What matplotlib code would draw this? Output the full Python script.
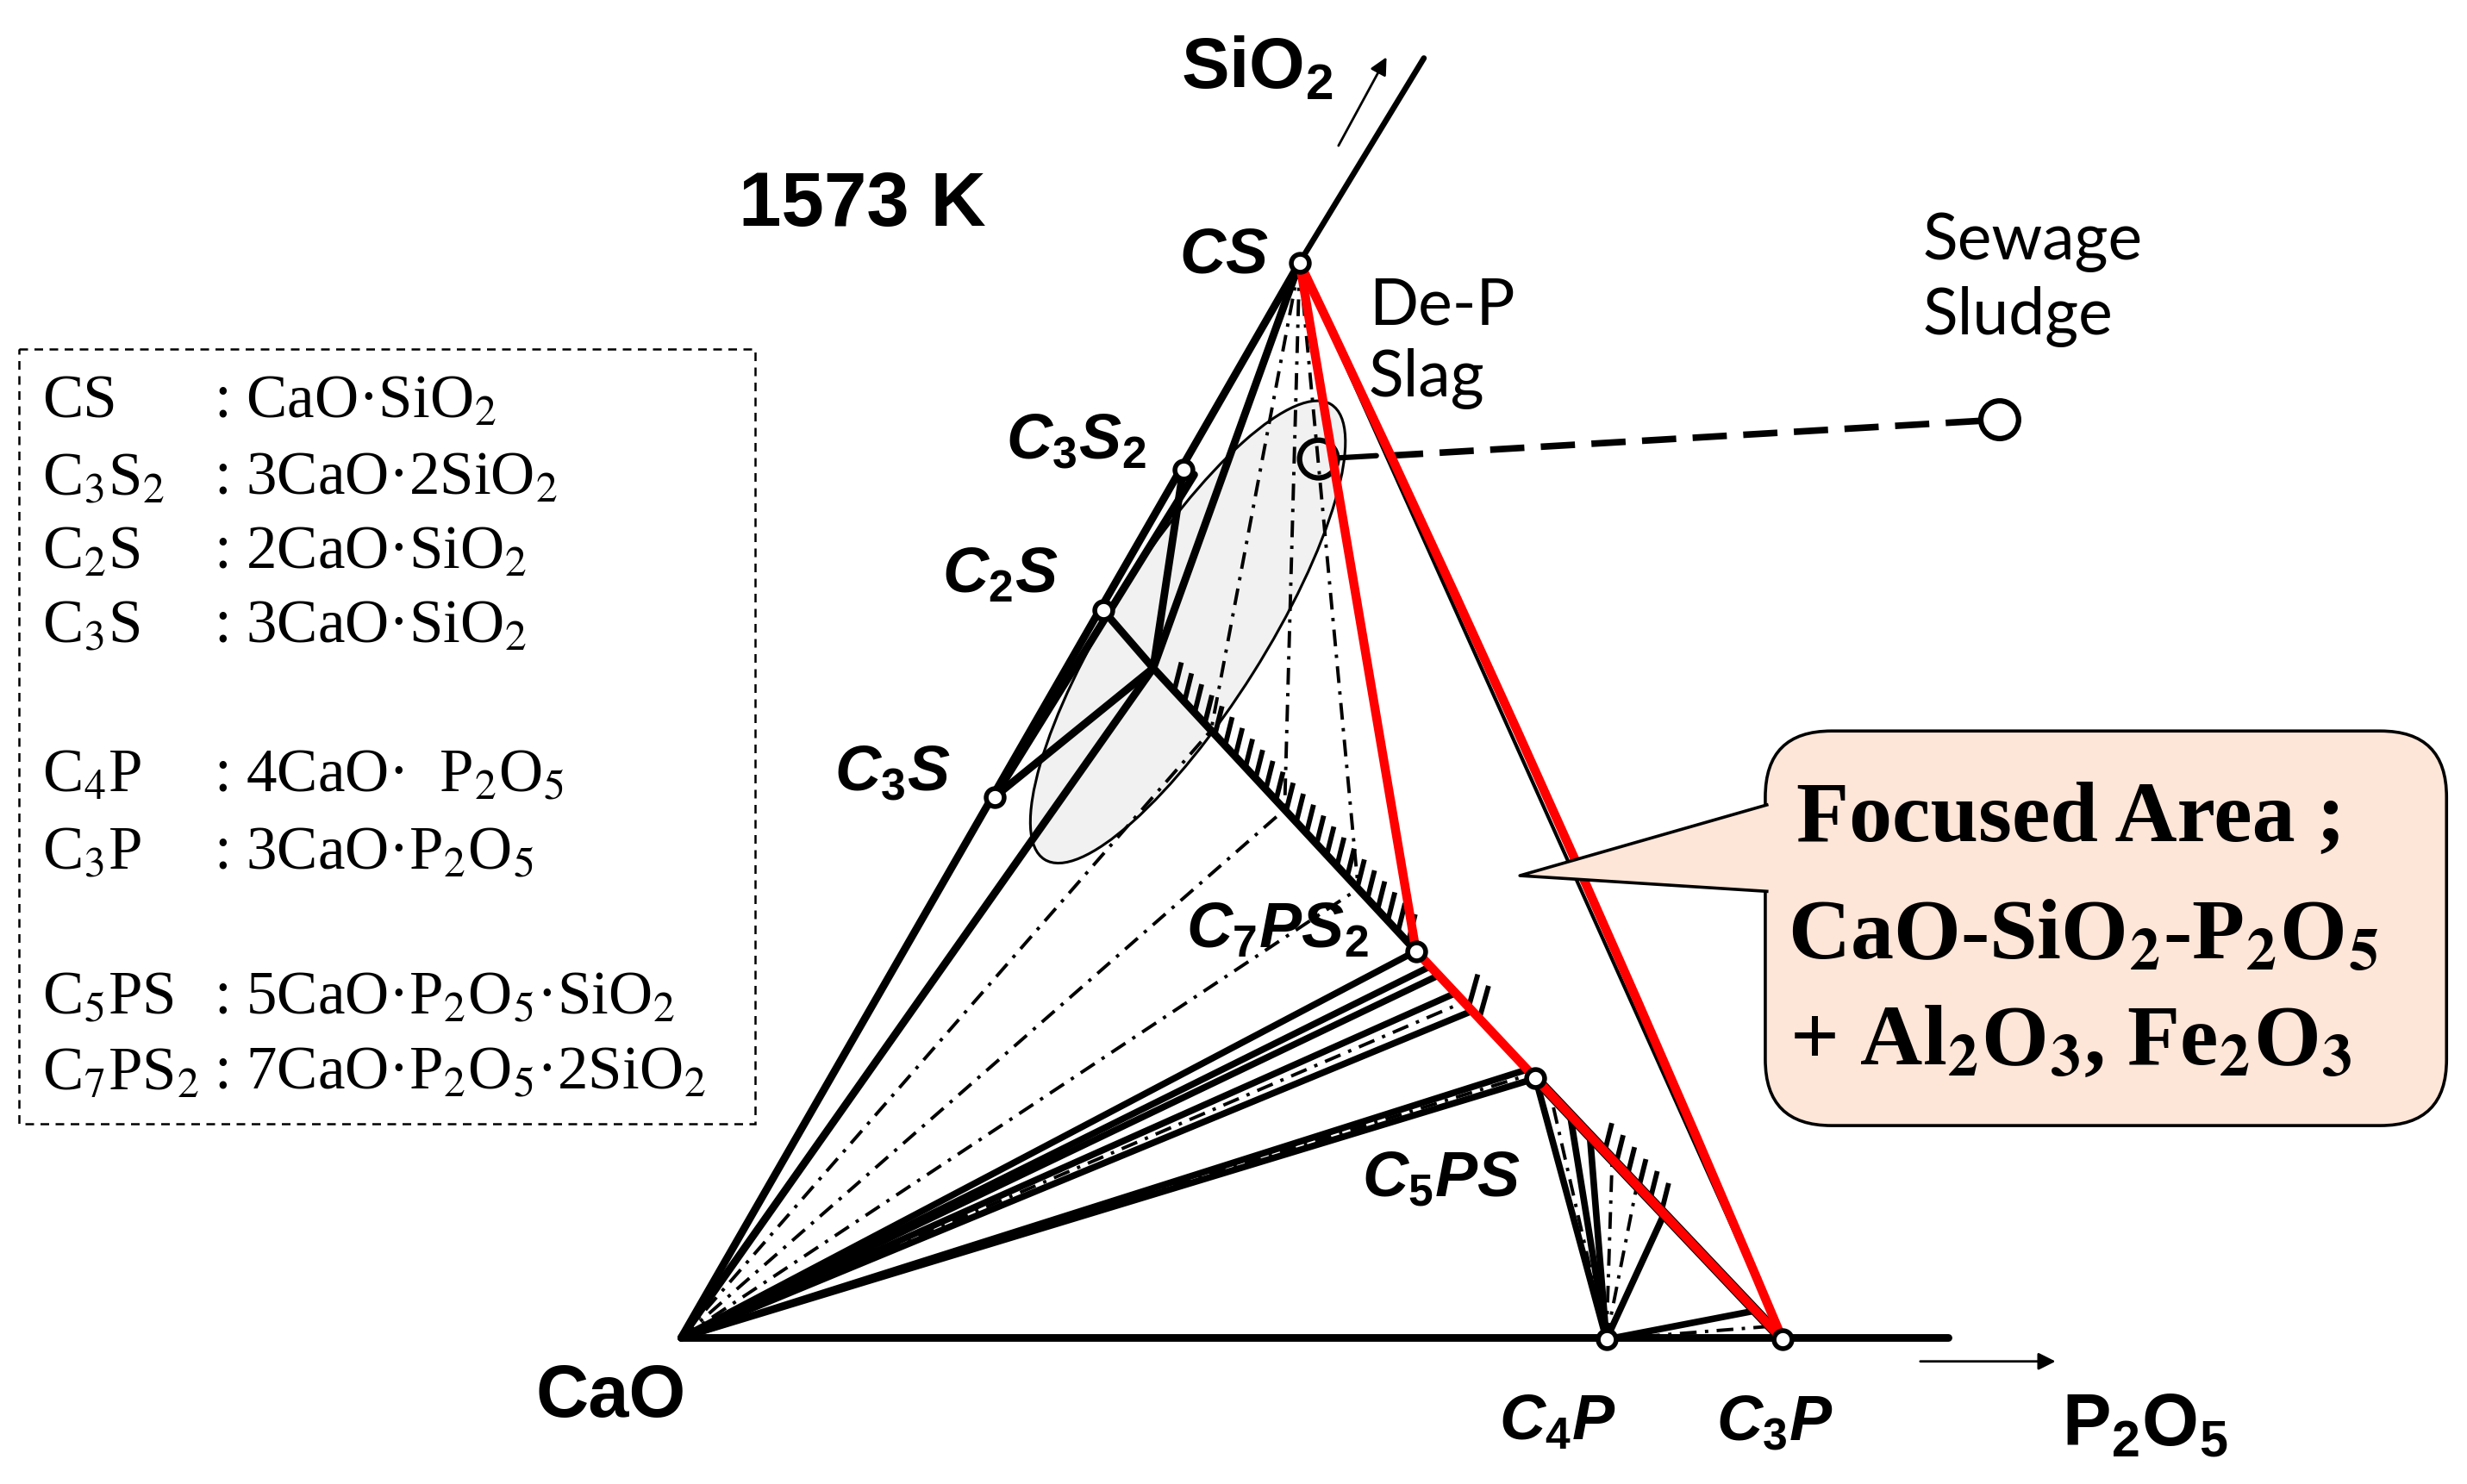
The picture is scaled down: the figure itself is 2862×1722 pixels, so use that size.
#  CaO-SiO2-P2O5 phase diagram at 1573 K (schematic)

import matplotlib.pyplot as plt
import numpy as np
from matplotlib.patches import Ellipse, Circle, FancyBboxPatch, Polygon, PathPatch, Rectangle
from matplotlib.path import Path

plt.rcParams['mathtext.fontset'] = 'custom'
plt.rcParams['mathtext.it'] = 'Liberation Sans:italic:bold'
plt.rcParams['mathtext.bf'] = 'Liberation Sans:bold'
plt.rcParams['mathtext.rm'] = 'Liberation Sans:bold'

# compound positions on the drawing (x to the right, y downwards)
CaO = (433, 851)
SiO2_end = (905, 37)
P2O5_end = (1238, 851)
CS = (826, 167)
C3S2 = (752, 299)
C2S = (701, 388)
C3S = (632, 507)
J = (733, 425)  # end of the hatched boundary on the C2S side
C7PS2 = (900, 605)
C5PS = (976, 686)
C4P = (1021, 852)
C3P = (1133, 852)
DeP_slag = (838, 292)
Sludge = (1271, 267)

# tie lines, given as fractions along a boundary segment
j_ties = [0.22, 0.50, 0.78]                       # J -> C7PS2, met by CaO and CS dash-dot lines
cao_fan_solid = [0.0, 0.12, 0.19, 0.33, 0.47, 0.93, 1.0]  # C7PS2 -> C5PS
cao_fan_dd = [0.40, 0.965]
c4p_fan_solid = [0.0, 0.14, 0.22, 0.52, 0.89]     # C5PS -> C3P
c4p_fan_dd = [0.06, 0.31, 0.41, 0.95]

labels = ['$\\mathit{CS}$', 'C$_\\mathit{3}$S$_\\mathit{2}$', 'C$_\\mathit{2}$S', 'C$_\\mathit{3}$S',
          'C$_\\mathit{7}$PS$_\\mathit{2}$', 'C$_\\mathit{5}$PS', 'C$_\\mathit{4}$P', 'C$_\\mathit{3}$P']
label_xy = [(778, 163), (684, 281), (636, 366), (567, 492),
            (812, 592), (916, 750), (990, 905), (1128, 905)]

leg_names = ['CS', 'C$_3$S$_2$', 'C$_2$S', 'C$_3$S', 'C$_4$P', 'C$_3$P', 'C$_5$PS', 'C$_7$PS$_2$']
leg_formulas = [': CaO·SiO$_2$', ': 3CaO·2SiO$_2$', ': 2CaO·SiO$_2$',
                ': 3CaO·SiO$_2$', ': 4CaO·  P$_2$O$_5$', ': 3CaO·P$_2$O$_5$',
                ': 5CaO·P$_2$O$_5$·SiO$_2$', ': 7CaO·P$_2$O$_5$·2SiO$_2$']
leg_y = [256, 305, 352, 399, 494, 543, 635, 683]


def along(p, q, t):
    return (p[0] + (q[0] - p[0]) * t, p[1] + (q[1] - p[1]) * t)


def seg(ax, p, q, **kw):
    ax.plot([p[0], q[0]], [p[1], q[1]], solid_capstyle='round', **kw)


def hatch(ax, p, q, ts, length, d):
    d = np.array(d) / np.hypot(*d)
    for t in ts:
        b = np.array(along(p, q, t))
        e = b + length * d
        ax.plot([b[0], e[0]], [b[1], e[1]], color='k', lw=4.2, zorder=4)


fig = plt.figure(figsize=(28.62, 17.22), dpi=100)
ax = fig.add_axes([0, 0, 1, 1])
ax.set_xlim(0, 1568)
ax.set_ylim(944, 0)
ax.axis('off')

thick = dict(color='k', lw=6.4, zorder=3)
fan = dict(color='k', lw=5.5, zorder=3)
dd = dict(color='k', lw=2.8, ls=(0, (5, 2.5, 1, 2.5)), zorder=3)

# grey two-liquid region
ax.add_patch(Ellipse((755, 402), 342, 98, angle=-57.8, facecolor='#f1f1f1',
                     edgecolor='k', lw=2.2, zorder=1))

# triangle sides
seg(ax, CaO, CS, **thick)
seg(ax, CS, SiO2_end, color='k', lw=4.8, zorder=3)
seg(ax, CaO, P2O5_end, **thick)
seg(ax, CS, C3P, color='k', lw=3.0, zorder=3)

# C2S corner
for p in [C3S, C2S, C3S2, CS, CaO]:
    seg(ax, p, J, **thick)
seg(ax, (C3S2[0] + 7, C3S2[1] + 3), C3S, **thick)
seg(ax, J, C7PS2, **thick)
hatch(ax, J, C7PS2, np.linspace(0.08, 0.97, 24), 17, (0.25, -1))

for t in j_ties:
    p = along(J, C7PS2, t)
    seg(ax, CaO, p, **dd)
    seg(ax, CS, p, **dd)

# CaO fan towards C7PS2 - C5PS
for t in cao_fan_solid:
    seg(ax, CaO, along(C7PS2, C5PS, t), **fan)
for t in cao_fan_dd:
    seg(ax, CaO, along(C7PS2, C5PS, t), **dd)
hatch(ax, C7PS2, C5PS, [0.44, 0.53], 20, (0.28, -1))

# C4P fan towards C5PS - C3P
for u in c4p_fan_solid:
    seg(ax, C4P, along(C5PS, C3P, u), **fan)
for u in c4p_fan_dd:
    seg(ax, C4P, along(C5PS, C3P, u), **dd)
seg(ax, C5PS, C3P, color='k', lw=9, zorder=3)
hatch(ax, C5PS, C3P, np.linspace(0.28, 0.51, 6), 17, (0.25, -1))

# focused area (red)
red = dict(color='#ff0000', lw=7.5, zorder=6)
ax.plot([CS[0], C7PS2[0], C5PS[0], C3P[0]], [CS[1], C7PS2[1], C5PS[1], C3P[1]],
        solid_joinstyle='round', solid_capstyle='round', **red)
mid = np.array(along(CS, C3P, 0.5))
n = np.array([C3P[1] - CS[1], -(C3P[0] - CS[0])], float)
ctrl = mid + 9 * n / np.hypot(*n)
ax.add_patch(PathPatch(Path([CS, tuple(ctrl), C3P], [Path.MOVETO, Path.CURVE3, Path.CURVE3]),
                       fill=False, edgecolor='#ff0000', lw=7.5, capstyle='round', zorder=6))

# compound points
pts = [CS, C3S2, C2S, C3S, C7PS2, C5PS, C4P, C3P]
ax.plot([p[0] for p in pts], [p[1] for p in pts], 'o', ms=15, mfc='white',
        mec='k', mew=4, zorder=7)

# de-P slag and sewage sludge mixing line
sx = along(DeP_slag, Sludge, 0.03)
sm = along(DeP_slag, Sludge, 0.085)
se = along(DeP_slag, Sludge, 0.97)
seg(ax, sx, sm, color='k', lw=4.5, zorder=5)
ax.plot([sm[0] + 8, se[0]], [sm[1], se[1]], color='k', lw=5.5, ls=(0, (5.2, 2.5)), zorder=5)
for c in [DeP_slag, Sludge]:
    ax.add_patch(Circle(c, 12, facecolor='none', edgecolor='k', lw=4.5, zorder=5))

# component arrows
ax.annotate('', xy=(882, 35), xytext=(850, 94),
            arrowprops=dict(arrowstyle='-|>', lw=2, color='k', mutation_scale=30))
ax.annotate('', xy=(1308, 866), xytext=(1219, 866),
            arrowprops=dict(arrowstyle='-|>', lw=2, color='k', mutation_scale=30))

sans = dict(family='Liberation Sans', weight='bold', math_fontfamily='custom',
            ha='center', va='center', zorder=8)
ax.text(799, 44, 'SiO$_\\mathbf{2}$', fontsize=60, **sans)
ax.text(548, 131, '1573 K', fontsize=64, **sans)
ax.text(388, 889, 'CaO', fontsize=61, **sans)
ax.text(1363, 907, 'P$_\\mathbf{2}$O$_\\mathbf{5}$', fontsize=61, **sans)
for s, (x, y) in zip(labels, label_xy):
    ax.text(x, y, s, fontsize=53, style='italic', **sans)

ax.text(870, 218, 'De-P\nSlag', family='Lato', fontsize=54, ha='left', va='center',
        linespacing=1.25, zorder=8)
ax.text(1222, 178, 'Sewage\nSludge', family='Lato', fontsize=54, ha='left', va='center',
        linespacing=1.3, zorder=8)

# legend box
ax.add_patch(Rectangle((12, 222), 468, 493, fill=False, edgecolor='k', lw=1.8,
                       ls=(0, (4, 3)), zorder=2))
for nm, fm, y in zip(leg_names, leg_formulas, leg_y):
    ax.text(27, y, nm, family='Liberation Serif', fontsize=51, math_fontfamily='stix',
            va='center', ha='left')
    ax.text(136, y, fm, family='Liberation Serif', fontsize=51, math_fontfamily='stix',
            va='center', ha='left')

# callout
peach = '#fde5d8'
ax.add_patch(FancyBboxPatch((1122, 465), 433, 251, boxstyle='round,pad=0,rounding_size=42',
                            facecolor=peach, edgecolor='k', lw=2.6, zorder=5))
tip = (966, 557)
top = (1123, 512)
bot = (1123, 567)
ax.add_patch(Polygon([top, tip, bot, (1132, 567), (1132, 512)], closed=True,
                     facecolor=peach, edgecolor='none', zorder=6))
ax.plot([top[0], tip[0], bot[0]], [top[1], tip[1], bot[1]], color='k', lw=2.6, zorder=6)
serif = dict(family='Liberation Serif', weight='bold', math_fontfamily='stix',
             ha='center', va='center', fontsize=72, zorder=8)
ax.text(1316, 522, 'Focused Area ;', **serif)
ax.text(1324, 597, 'CaO-SiO$_\\mathbf{2}$-P$_\\mathbf{2}$O$_\\mathbf{5}$', **serif)
ax.text(1316, 664, '+ Al$_\\mathbf{2}$O$_\\mathbf{3}$, Fe$_\\mathbf{2}$O$_\\mathbf{3}$', **serif)

fig.savefig('out.png', dpi=100)
